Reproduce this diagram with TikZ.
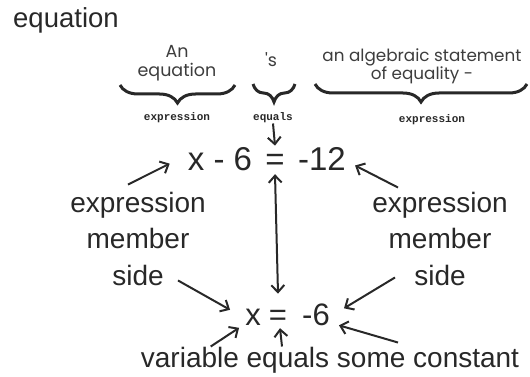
\documentclass[tikz,border=0pt]{standalone}
\usepackage{fontspec}
\setmainfont{Liberation Sans}
\newfontfamily\handfont{Poppins}
\newfontfamily\tagfont{Liberation Mono}
\usetikzlibrary{arrows.meta,calc,decorations.pathreplacing}
\definecolor{inkgray}{RGB}{40,40,40}
\tikzset{
	ttl/.style  = {font=\fontsize{27.5}{30}\selectfont,text=inkgray,inner sep=0pt},
	hand/.style = {font=\handfont\fontsize{17.5}{19.5}\selectfont,text=inkgray!90,
		align=center,inner sep=0pt},
	tag/.style  = {font=\tagfont\bfseries\fontsize{11}{12}\selectfont,
		text=inkgray,inner sep=0pt},
	eqn/.style  = {font=\fontsize{33}{36}\selectfont,text=inkgray,
		inner sep=0pt,anchor=base},
	eqs/.style  = {font=\fontsize{31}{34}\selectfont,text=inkgray,
		inner sep=0pt,anchor=base},
	lbl/.style  = {font=\fontsize{28}{36.5}\selectfont,text=inkgray,
		align=center,inner sep=0pt},
	arr/.style  = {-{Straight Barb[length=7pt,width=13pt]},line width=2pt,inkgray},
	darr/.style = {{Straight Barb[length=7pt,width=13pt]}-{Straight Barb[length=7pt,width=13pt]},
		line width=2pt,inkgray},
	brc/.style  = {decorate,decoration={brace,amplitude=18pt},line width=3pt,inkgray},
}

\begin{document}
\begin{tikzpicture}[x=1pt,y=-1pt]
	\useasboundingbox (0,0) rectangle (530,377);
	\node[ttl,anchor=base west] (title) at (13,28) {equation};
	
	% sentence on top, cut in three parts
	\node[hand,anchor=base] (an) at (177,77) {An\\equation};
	\node[hand,anchor=base] (is) at (271,67) {'s};
	\node[hand,anchor=base,font=\handfont\fontsize{16.8}{18.5}\selectfont]
	(stmt) at (422,80) {an algebraic statement\\of equality -};
	
	\draw[brc] (235,85) -- (120,85);
	\draw[brc] (295,84) -- (253,84);
	\draw[brc] (527,84) -- (315,84);
	
	\node[tag,anchor=base] (lexp) at (177,121) {expression};
	\node[tag,anchor=base] (eqls) at (273,121) {equals};
	\node[tag,anchor=base] (rexp) at (432,123) {expression};
	
	% x - 6 = -12
	\node[eqn] (lhs) at (220,170) {x - 6};
	\node[eqn] (eqa) at (275,170) {=};
	\node[eqn] (rhs) at (322,170) {-12};
	
	\node[lbl,anchor=base] (lmem) at (138,285) {expression\\member\\side};
	\node[lbl,anchor=base] (rmem) at (440,285) {expression\\member\\side};
	
	% x = -6
	\node[eqs] (xv) at (253,325) {x};
	\node[eqs] (eqb) at (278,325) {=};
	\node[eqs] (val) at (316,325) {-6};
	
	\node[lbl,anchor=base] (note) at (330,367) {variable equals some constant};
	
	\draw[arr] (eqls.south) -- ($(eqa.north)+(0,-8)$);
	\draw[darr] ($(eqa.south)+(0,4)$) -- ($(eqb.north)+(0,-16)$);
	\draw[arr] ($(lmem.north)+(-10,-7)$) -- ($(lhs.west)+(-18,5)$);
	\draw[arr] ($(rmem.north)+(-42,-4)$) -- ($(rhs.east)+(9,7)$);
	\draw[arr] ($(lmem.south)+(40,-5)$) -- ($(xv.west)+(-15,-7)$);
	\draw[arr] ($(note.north west)+(70,0)$) -- ($(xv.west)+(-6,11)$);
	\draw[arr] ($(note.north)+(-48,0)$) -- ($(eqb.south)+(2,3)$);
	\draw[arr] ($(rmem.south)+(-45,-8)$) -- ($(val.east)+(14,-6)$);
	\draw[arr] ($(note.north)+(68,-4)$) -- ($(val.east)+(9,11)$);
\end{tikzpicture}
\end{document}
